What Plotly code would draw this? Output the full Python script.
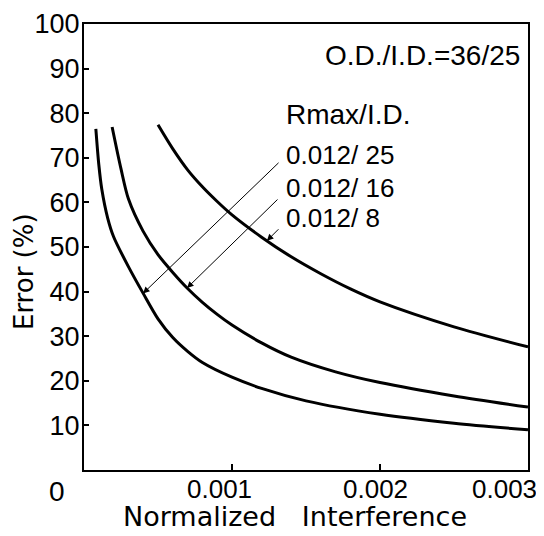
import plotly.graph_objects as go

# ---- data ----
x_r25 = [0.00008, 0.0001, 0.00012, 0.00016, 0.0002, 0.0003, 0.0004, 0.0005, 0.0006, 0.0007, 0.0008, 0.001, 0.0012, 0.0015, 0.002, 0.0025, 0.003]
y_r25 = [76.5, 68.5, 63.0, 56.5, 52.3, 45.6, 39.6, 33.9, 29.7, 26.6, 24.1, 20.8, 18.3, 15.5, 12.5, 10.5, 9.0]

x_r16 = [0.00019, 0.00025, 0.0003, 0.0004, 0.0005, 0.0006, 0.0007, 0.0008, 0.0009, 0.001, 0.0012, 0.0014, 0.0017, 0.002, 0.0025, 0.003]
y_r16 = [76.9, 67.5, 60.8, 53.5, 48.3, 44.3, 40.7, 37.6, 34.9, 32.5, 28.5, 25.3, 22.0, 19.6, 16.6, 14.1]

x_r8 = [0.0005, 0.0006, 0.0007, 0.0008, 0.0009, 0.001, 0.0012, 0.0014, 0.0016, 0.0018, 0.002, 0.0025, 0.003]
y_r8 = [77.4, 72.0, 67.3, 63.5, 60.2, 57.2, 52.2, 47.8, 44.0, 40.6, 37.7, 32.1, 27.6]

series_names = ["0.012/ 25", "0.012/ 16", "0.012/ 8"]
series_x = [x_r25, x_r16, x_r8]
series_y = [y_r25, y_r16, y_r8]

# arrow heads (on the curves) for each label
arrow_x = [0.000399, 0.000696, 0.001236]
arrow_y = [39.6, 40.8, 51.4]
label_y = [70.6, 63.2, 56.5]

x_tickvals = [0.001, 0.002, 0.003]
x_ticktext = ["0.001", "0.002", "0.003"]
y_tickvals = [10, 20, 30, 40, 50, 60, 70, 80, 90, 100]
y_ticktext = [str(v) for v in y_tickvals]

FONT = "Liberation Sans"
TFONT = "DejaVu Sans"

fig = go.Figure()
for xs, ys, nm in zip(series_x, series_y, series_names):
    fig.add_trace(go.Scatter(x=xs, y=ys, mode="lines", name=nm,
                             line=dict(color="black", width=3, shape="spline", smoothing=0.8),
                             showlegend=False, hoverinfo="skip"))

annotations = []
tail_offsets = [(137, -132), (92, -90), (13, -13)]
for nm, ax_, ay_, ly, (dx, dy) in zip(series_names, arrow_x, arrow_y, label_y, tail_offsets):
    annotations.append(dict(x=0.00135, y=ly, xref="x", yref="y", text=nm, showarrow=False,
                            xanchor="left", yanchor="middle", font=dict(family=FONT, size=26, color="black")))
    annotations.append(dict(x=ax_, y=ay_, xref="x", yref="y", text="", showarrow=True,
                            ax=dx, ay=dy, axref="pixel", ayref="pixel",
                            arrowhead=2, arrowsize=1.3, arrowwidth=1, arrowcolor="black"))

annotations.append(dict(x=0.00135, y=79.6, xref="x", yref="y", text="Rmax/I.D.", showarrow=False,
                        xanchor="left", yanchor="middle", font=dict(family=FONT, size=28, color="black")))
annotations.append(dict(x=0.003, y=93.0, xref="x", yref="y", text="O.D./I.D.=36/25", showarrow=False,
                        xanchor="right", yanchor="middle", xshift=-6,
                        font=dict(family=FONT, size=28, color="black")))
annotations.append(dict(x=0, y=0, xref="x", yref="y", text="0", showarrow=False,
                        xanchor="center", yanchor="middle", xshift=-27, yshift=-21,
                        font=dict(family=FONT, size=28, color="black")))
# x tick labels, placed on the x scale (the printed labels sit slightly left of their ticks)
for tv, tt, sh in zip(x_tickvals, x_ticktext, [-13, -5, -24]):
    annotations.append(dict(x=tv, y=0, xref="x", yref="y", text=tt, showarrow=False,
                            xanchor="center", yanchor="middle", xshift=sh, yshift=-19,
                            font=dict(family=FONT, size=26, color="black")))
annotations.append(dict(x=-0.135, y=0.444, xref="paper", yref="paper", text="Error (%)",
                        showarrow=False, textangle=-90, xanchor="center", yanchor="middle",
                        font=dict(family=TFONT, size=26, color="black")))
annotations.append(dict(x=0.475, y=-0.105, xref="paper", yref="paper",
                        text="Normalized\u00a0\u00a0\u00a0Interference",
                        showarrow=False, xanchor="center", yanchor="middle",
                        font=dict(family=TFONT, size=27, color="black")))

# the page body adds an 8 px margin, so the figure is 8 px smaller each way
fig.update_layout(
    width=536, height=528,
    margin=dict(l=76, r=16, t=16, b=66),
    paper_bgcolor="white", plot_bgcolor="white",
    annotations=annotations,
    xaxis=dict(range=[0, 0.003], tickvals=x_tickvals, ticktext=x_ticktext, automargin=False,
               showticklabels=False,
               ticks="inside", ticklen=6, tickwidth=1.5, tickcolor="black",
               showline=True, linecolor="black", linewidth=2, mirror=True,
               showgrid=False, zeroline=False),
    yaxis=dict(range=[0, 100], tickvals=y_tickvals, ticktext=y_ticktext, automargin=False,
               ticks="inside", ticklen=5, tickwidth=1.5, tickcolor="black",
               showline=True, linecolor="black", linewidth=2, mirror=True,
               showgrid=False, zeroline=False, ticklabelstandoff=-3,
               tickfont=dict(family=FONT, size=27, color="black")),
)

fig.write_html("out.html")
